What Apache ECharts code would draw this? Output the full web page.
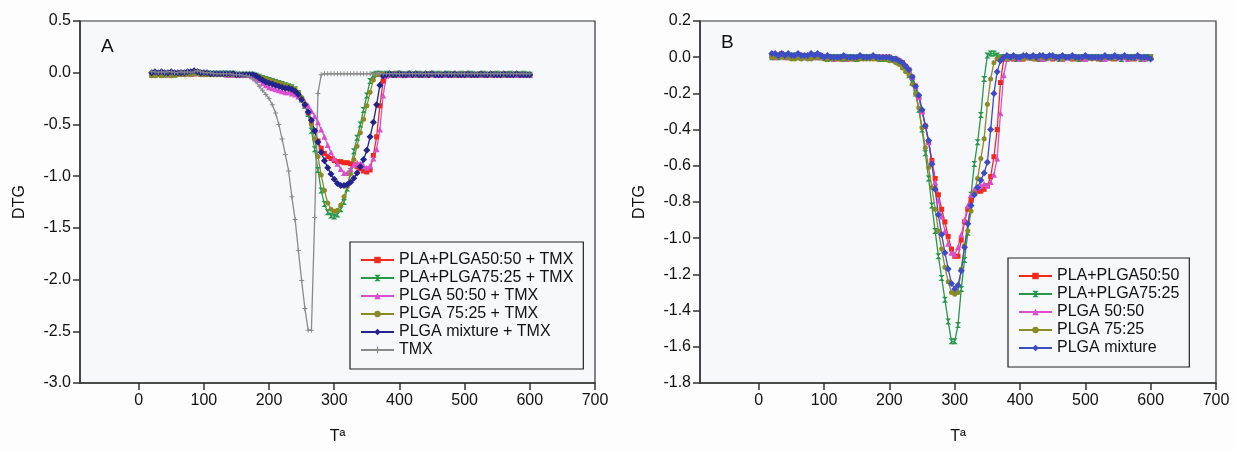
<!DOCTYPE html>
<html>
<head>
<meta charset="utf-8">
<script src="https://cdn.jsdelivr.net/npm/echarts@6/dist/echarts.min.js"></script>
<style>
  html, body { margin: 0; padding: 0; background: #fdfdfd; }
  #chart { width: 1235px; height: 450px; }
</style>
</head>
<body>
<div id="chart"></div>
<script>
// temperature grid (°C), shared by every curve
const temps = [
  20,25,30,35,40,45,50,55,60,65,
  70,75,80,85,90,95,100,105,110,115,
  120,125,130,135,140,145,150,155,160,165,
  170,175,180,185,190,195,200,205,210,215,
  220,225,230,235,240,245,250,255,260,265,
  270,275,280,285,290,295,300,305,310,315,
  320,325,330,335,340,345,350,355,360,365,
  370,375,380,385,390,395,400,405,410,415,
  420,425,430,435,440,445,450,455,460,465,
  470,475,480,485,490,495,500,505,510,515,
  520,525,530,535,540,545,550,555,560,565,
  570,575,580,585,590,595,600
]

const xTicks = [0, 100, 200, 300, 400, 500, 600, 700]

// ---- panel A (with TMX) ----
const namesA = ['PLA+PLGA50:50 + TMX', 'PLA+PLGA75:25 + TMX', 'PLGA 50:50 + TMX', 'PLGA 75:25 + TMX', 'PLGA mixture + TMX', 'TMX']

const redA = [
  -0.01,-0.01,-0.01,-0.02,-0.01,-0.01,-0.01,-0.01,-0.01,0.00,
  0.00,-0.01,0.00,0.00,0.01,0.00,-0.01,-0.01,-0.01,-0.01,
  -0.01,-0.01,-0.01,-0.01,-0.01,-0.02,-0.02,-0.02,-0.02,-0.02,
  -0.02,-0.02,-0.03,-0.05,-0.06,-0.08,-0.09,-0.10,-0.11,-0.12,
  -0.13,-0.14,-0.15,-0.17,-0.19,-0.22,-0.26,-0.32,-0.39,-0.47,
  -0.56,-0.66,-0.73,-0.78,-0.81,-0.83,-0.85,-0.86,-0.86,-0.87,
  -0.87,-0.88,-0.89,-0.91,-0.93,-0.95,-0.96,-0.94,-0.80,-0.62,
  -0.32,-0.08,-0.02,-0.02,-0.01,-0.02,-0.02,-0.01,-0.02,-0.02,
  -0.02,-0.01,-0.02,-0.02,-0.02,-0.01,-0.01,-0.02,-0.02,-0.02,
  -0.02,-0.02,-0.01,-0.02,-0.02,-0.02,-0.01,-0.02,-0.02,-0.02,
  -0.02,-0.01,-0.02,-0.02,-0.02,-0.01,-0.02,-0.02,-0.02,-0.01,
  -0.02,-0.02,-0.01,-0.02,-0.02,-0.02,-0.02
]
const greenA = [
  -0.02,-0.02,-0.01,-0.02,-0.02,-0.01,-0.01,-0.02,-0.01,-0.01,
  -0.01,0.00,-0.01,0.00,0.00,-0.01,-0.01,-0.01,-0.01,-0.01,
  -0.01,-0.01,-0.01,-0.01,-0.01,-0.01,-0.02,-0.02,-0.02,-0.02,
  -0.02,-0.02,-0.03,-0.04,-0.05,-0.06,-0.07,-0.08,-0.09,-0.10,
  -0.11,-0.12,-0.13,-0.14,-0.16,-0.20,-0.26,-0.32,-0.40,-0.56,
  -0.74,-0.94,-1.14,-1.27,-1.35,-1.38,-1.39,-1.37,-1.32,-1.25,
  -1.12,-0.95,-0.76,-0.63,-0.50,-0.36,-0.22,-0.08,-0.02,-0.01,
  -0.01,-0.02,-0.01,-0.02,-0.02,-0.01,-0.01,-0.02,-0.02,-0.01,
  -0.02,-0.02,-0.01,-0.02,-0.02,-0.02,-0.01,-0.02,-0.01,-0.02,
  -0.02,-0.01,-0.02,-0.02,-0.02,-0.01,-0.02,-0.02,-0.01,-0.02,
  -0.02,-0.02,-0.01,-0.02,-0.02,-0.02,-0.01,-0.02,-0.02,-0.02,
  -0.01,-0.02,-0.02,-0.02,-0.01,-0.02,-0.02
]
const magentaA = [
  -0.01,-0.02,-0.01,-0.01,-0.01,-0.02,-0.01,-0.01,-0.01,-0.01,
  -0.01,-0.01,0.00,-0.01,0.00,-0.01,-0.01,-0.01,-0.01,-0.01,
  -0.01,-0.01,-0.01,-0.02,-0.02,-0.02,-0.02,-0.02,-0.02,-0.02,
  -0.02,-0.03,-0.05,-0.07,-0.10,-0.12,-0.14,-0.15,-0.16,-0.17,
  -0.18,-0.19,-0.19,-0.20,-0.21,-0.23,-0.25,-0.28,-0.32,-0.37,
  -0.42,-0.48,-0.55,-0.62,-0.70,-0.77,-0.83,-0.88,-0.93,-0.97,
  -0.97,-0.93,-0.89,-0.87,-0.88,-0.90,-0.92,-0.90,-0.83,-0.74,
  -0.55,-0.22,-0.03,-0.02,-0.02,-0.01,-0.02,-0.02,-0.01,-0.02,
  -0.02,-0.02,-0.01,-0.02,-0.02,-0.02,-0.01,-0.02,-0.02,-0.01,
  -0.02,-0.02,-0.02,-0.01,-0.02,-0.02,-0.02,-0.01,-0.02,-0.02,
  -0.01,-0.02,-0.02,-0.02,-0.01,-0.02,-0.02,-0.01,-0.02,-0.02,
  -0.02,-0.01,-0.02,-0.02,-0.02,-0.01,-0.02
]
const oliveA = [
  -0.03,-0.03,-0.02,-0.03,-0.02,-0.02,-0.03,-0.02,-0.02,-0.02,
  -0.02,-0.01,-0.02,-0.01,-0.01,-0.02,-0.02,-0.02,-0.02,-0.02,
  -0.02,-0.02,-0.02,-0.02,-0.02,-0.02,-0.02,-0.02,-0.02,-0.02,
  -0.02,-0.02,-0.03,-0.04,-0.05,-0.06,-0.07,-0.08,-0.09,-0.10,
  -0.11,-0.12,-0.13,-0.14,-0.16,-0.19,-0.24,-0.30,-0.38,-0.50,
  -0.64,-0.81,-0.99,-1.14,-1.26,-1.32,-1.34,-1.33,-1.28,-1.20,
  -1.10,-0.98,-0.84,-0.71,-0.58,-0.45,-0.32,-0.19,-0.07,-0.02,
  -0.02,-0.01,-0.02,-0.02,-0.02,-0.01,-0.02,-0.02,-0.02,-0.01,
  -0.02,-0.02,-0.02,-0.01,-0.02,-0.02,-0.01,-0.02,-0.02,-0.02,
  -0.01,-0.02,-0.02,-0.02,-0.01,-0.02,-0.02,-0.02,-0.02,-0.01,
  -0.02,-0.02,-0.01,-0.02,-0.02,-0.02,-0.02,-0.01,-0.02,-0.02,
  -0.02,-0.02,-0.01,-0.02,-0.02,-0.02,-0.02
]
const blueA = [
  0.00,0.01,0.00,0.01,0.00,0.00,0.01,0.00,0.00,0.00,
  0.00,0.01,0.01,0.02,0.01,0.00,0.00,0.00,-0.01,-0.01,
  -0.01,-0.01,-0.01,-0.01,-0.01,-0.01,-0.02,-0.02,-0.02,-0.02,
  -0.02,-0.02,-0.03,-0.05,-0.07,-0.09,-0.10,-0.11,-0.12,-0.13,
  -0.14,-0.15,-0.15,-0.16,-0.18,-0.21,-0.26,-0.31,-0.38,-0.46,
  -0.56,-0.67,-0.77,-0.85,-0.92,-0.98,-1.03,-1.07,-1.09,-1.09,
  -1.08,-1.06,-1.02,-0.97,-0.91,-0.84,-0.75,-0.62,-0.48,-0.31,
  -0.12,-0.03,-0.02,-0.01,-0.02,-0.02,-0.01,-0.02,-0.02,-0.01,
  -0.02,-0.01,-0.02,-0.02,-0.01,-0.02,-0.01,-0.02,-0.02,-0.02,
  -0.01,-0.02,-0.02,-0.01,-0.02,-0.02,-0.02,-0.01,-0.02,-0.02,
  -0.02,-0.01,-0.02,-0.02,-0.01,-0.02,-0.02,-0.02,-0.01,-0.02,
  -0.02,-0.02,-0.01,-0.02,-0.02,-0.02,-0.02
]
const tmxA = [
  0.01,0.01,0.00,0.01,0.00,0.01,0.01,0.00,0.00,0.01,
  0.00,0.01,0.00,0.01,0.02,0.01,0.00,0.00,0.00,-0.01,
  -0.01,-0.01,-0.01,-0.01,-0.01,-0.02,-0.02,-0.02,-0.03,-0.03,
  -0.04,-0.06,-0.09,-0.13,-0.17,-0.21,-0.25,-0.31,-0.39,-0.50,
  -0.64,-0.79,-0.95,-1.20,-1.42,-1.72,-2.01,-2.28,-2.49,-2.49,
  -1.40,-0.20,-0.02,-0.01,-0.01,-0.01,-0.01,-0.01,-0.01,-0.01,
  -0.01,-0.01,-0.01,-0.01,-0.01,-0.01,-0.01,-0.01,-0.01,-0.01,
  -0.01,-0.01,-0.01,-0.01,-0.01,-0.01,-0.01,-0.01,-0.01,-0.01,
  -0.01,-0.01,-0.01,-0.01,-0.01,-0.01,-0.01,-0.01,-0.01,-0.01,
  -0.01,-0.01,-0.01,-0.01,-0.01,-0.01,-0.01,-0.01,-0.01,-0.01,
  -0.01,-0.01,-0.01,-0.01,-0.01,-0.01,-0.01,-0.01,-0.01,-0.01,
  -0.01,-0.01,-0.01,-0.01,-0.01,-0.01,-0.01
]

// ---- panel B (polymers only) ----
const namesB = ['PLA+PLGA50:50', 'PLA+PLGA75:25', 'PLGA 50:50', 'PLGA 75:25', 'PLGA mixture']

const redB = [
  0.01,0.01,0.01,0.02,0.01,0.01,0.01,0.00,0.01,0.01,
  0.01,0.00,0.00,0.01,0.01,0.01,0.00,0.00,0.00,0.00,
  0.00,-0.01,0.00,0.00,0.00,-0.01,0.00,0.00,0.00,0.00,
  0.00,0.00,0.00,0.00,0.00,0.00,0.00,-0.01,-0.01,-0.02,
  -0.03,-0.05,-0.07,-0.11,-0.16,-0.22,-0.30,-0.38,-0.47,-0.57,
  -0.67,-0.76,-0.84,-0.91,-0.99,-1.06,-1.10,-1.10,-1.01,-0.91,
  -0.84,-0.79,-0.75,-0.74,-0.74,-0.73,-0.71,-0.66,-0.55,-0.40,
  -0.14,-0.01,0.00,0.00,-0.01,0.00,0.00,-0.01,0.00,0.00,
  0.00,-0.01,-0.01,0.00,0.00,0.00,-0.01,0.00,0.00,0.00,
  0.00,0.00,-0.01,0.00,0.00,-0.01,0.00,0.00,0.00,0.00,
  -0.01,0.00,0.00,0.00,0.00,-0.01,0.00,0.00,0.00,0.00,
  0.00,-0.01,0.00,0.00,0.00,0.00,0.00
]
const greenB = [
  0.00,0.01,0.00,0.01,0.01,0.00,0.00,0.01,0.00,0.00,
  0.00,0.00,0.00,0.01,0.00,0.00,0.00,-0.01,0.00,0.00,
  0.00,0.00,-0.01,0.00,0.00,0.00,-0.01,0.00,0.00,0.00,
  0.00,0.00,0.00,-0.01,-0.01,-0.01,-0.01,-0.01,-0.02,-0.03,
  -0.05,-0.07,-0.10,-0.14,-0.20,-0.29,-0.40,-0.53,-0.67,-0.82,
  -0.96,-1.10,-1.22,-1.34,-1.46,-1.57,-1.57,-1.48,-1.28,-1.12,
  -0.97,-0.76,-0.59,-0.47,-0.32,-0.12,0.01,0.02,0.02,0.01,
  0.00,0.00,0.00,0.00,0.00,-0.01,0.00,0.00,0.00,0.00,
  0.00,0.00,-0.01,0.00,0.00,0.00,0.00,0.00,-0.01,0.00,
  0.00,0.00,0.00,0.00,-0.01,0.00,0.00,0.00,0.00,0.00,
  0.00,-0.01,0.00,0.00,0.00,0.00,0.00,-0.01,0.00,0.00,
  0.00,0.00,0.00,-0.01,0.00,0.00,0.00
]
const magentaB = [
  0.01,0.00,0.01,0.01,0.00,0.01,0.00,0.00,0.01,0.00,
  0.00,0.01,0.00,0.00,0.01,0.00,0.00,0.00,0.00,-0.01,
  0.00,0.00,0.00,-0.01,0.00,0.00,0.00,0.00,0.00,0.00,
  0.00,0.00,0.00,0.00,0.00,0.00,0.00,-0.01,-0.01,-0.02,
  -0.03,-0.05,-0.07,-0.11,-0.16,-0.22,-0.30,-0.38,-0.47,-0.58,
  -0.69,-0.79,-0.88,-0.96,-1.03,-1.08,-1.09,-1.05,-0.98,-0.90,
  -0.82,-0.76,-0.73,-0.72,-0.71,-0.70,-0.71,-0.69,-0.65,-0.56,
  -0.31,-0.10,-0.01,0.00,0.00,0.00,-0.01,0.00,0.00,0.00,
  0.00,0.00,0.00,-0.01,0.00,0.00,0.00,0.00,0.00,-0.01,
  0.00,0.00,0.00,0.00,0.00,0.00,-0.01,0.00,0.00,0.00,
  0.00,0.00,-0.01,0.00,0.00,0.00,0.00,0.00,0.00,-0.01,
  0.00,0.00,0.00,0.00,-0.01,0.00,0.00
]
const oliveB = [
  0.00,0.00,0.01,0.00,0.00,0.00,-0.01,-0.01,0.00,-0.01,
  0.00,-0.01,-0.01,0.00,0.00,0.00,-0.01,-0.01,-0.01,-0.01,
  -0.01,-0.01,-0.01,-0.01,-0.01,-0.01,-0.01,-0.01,-0.01,-0.01,
  -0.01,-0.01,-0.01,-0.01,-0.01,-0.01,-0.02,-0.02,-0.03,-0.04,
  -0.06,-0.08,-0.10,-0.15,-0.20,-0.28,-0.39,-0.50,-0.61,-0.72,
  -0.84,-0.96,-1.06,-1.16,-1.24,-1.30,-1.31,-1.30,-1.17,-1.04,
  -0.96,-0.85,-0.75,-0.67,-0.56,-0.45,-0.26,-0.12,-0.03,-0.01,
  0.00,0.00,-0.01,0.00,0.00,0.00,0.00,-0.01,0.00,0.00,
  -0.01,0.00,0.00,0.00,-0.01,0.00,0.00,0.00,0.00,-0.01,
  0.00,0.00,0.00,-0.01,0.00,0.00,0.00,0.00,-0.01,0.00,
  0.00,0.00,0.00,0.00,-0.01,0.00,0.00,0.00,0.00,0.00,
  -0.01,0.00,0.00,0.00,0.00,-0.01,0.00
]
const blueB = [
  0.02,0.02,0.01,0.02,0.01,0.02,0.01,0.01,0.02,0.01,
  0.01,0.01,0.02,0.01,0.02,0.01,0.00,0.01,0.00,0.00,
  0.00,0.00,0.01,0.00,0.00,0.00,0.00,0.01,0.00,0.00,
  0.00,0.01,0.00,0.00,0.00,0.00,0.00,-0.01,-0.01,-0.02,
  -0.03,-0.05,-0.07,-0.11,-0.16,-0.21,-0.29,-0.38,-0.46,-0.59,
  -0.73,-0.87,-0.98,-1.08,-1.17,-1.25,-1.28,-1.26,-1.18,-1.05,
  -0.92,-0.82,-0.76,-0.72,-0.68,-0.64,-0.58,-0.40,-0.20,-0.08,
  -0.02,0.00,0.01,0.00,0.01,0.00,0.00,0.01,0.01,0.00,
  0.01,0.00,0.01,0.01,0.00,0.01,0.01,0.00,0.00,0.01,
  0.00,0.00,0.01,0.00,0.00,0.00,0.01,0.00,0.00,0.00,
  0.00,0.00,0.01,0.00,0.00,0.01,0.00,0.00,0.01,0.00,
  0.00,0.00,0.01,0.00,0.00,0.00,-0.01
]

// marker shapes
const hourglass = 'path://M0,0L10,0L0,10L10,10Z'
const plusMark = 'path://M4,0H6V4H10V6H6V10H4V6H0V4H4Z'

const fontFam = '"Liberation Sans", Arial, sans-serif'

function mkSeries(name, vals, color, symbol, size, idx) {
  return {
    name: name,
    type: 'line',
    xAxisIndex: idx,
    yAxisIndex: idx,
    data: temps.map((t, i) => [t, vals[i]]),
    symbol: symbol,
    symbolSize: size,
    lineStyle: { color: color, width: 1.3 },
    itemStyle: { color: color },
    animation: false
  }
}

function xAxisCfg(idx) {
  return {
    type: 'value',
    gridIndex: idx,
    min: -90,
    max: 700,
    name: 'Tª',
    nameLocation: 'middle',
    nameGap: 46,
    nameTextStyle: { fontSize: 16, color: '#111', fontFamily: fontFam },
    axisLine: { onZero: false, lineStyle: { color: '#333', width: 1.5 } },
    axisTick: { customValues: xTicks, length: 7, lineStyle: { color: '#333', width: 1.5 } },
    axisLabel: { customValues: xTicks, margin: 10, fontSize: 16, color: '#111', fontFamily: fontFam },
    splitLine: { show: false }
  }
}

function yAxisCfg(idx, min, max, step) {
  return {
    type: 'value',
    gridIndex: idx,
    min: min,
    max: max,
    interval: step,
    name: 'DTG',
    nameLocation: 'middle',
    nameGap: 52,
    nameTextStyle: { fontSize: 16, color: '#111', fontFamily: fontFam },
    axisLine: { show: true, onZero: false, lineStyle: { color: '#333', width: 1.5 } },
    axisTick: { show: true, length: 7, lineStyle: { color: '#333', width: 1.5 } },
    axisLabel: {
      margin: 9, fontSize: 16, color: '#111', fontFamily: fontFam,
      formatter: v => (Math.abs(v) < 1e-9 ? 0 : v).toFixed(1)
    },
    splitLine: { show: false }
  }
}

function legendCfg(names, left, top, pad) {
  return {
    data: names,
    orient: 'vertical',
    left: left,
    top: top,
    padding: pad,
    itemGap: 0,
    itemWidth: 33,
    itemHeight: 8,
    borderColor: '#222',
    borderWidth: 1.2,
    textStyle: { fontSize: 16, lineHeight: 18, color: '#111', fontFamily: fontFam }
  }
}

const chart = echarts.init(document.getElementById('chart'), null, { renderer: 'canvas' })

const option = {
  backgroundColor: '#fdfdfd',
  animation: false,
  grid: [
    { left: 80, top: 21, width: 515, height: 372, show: true, borderColor: '#333', borderWidth: 1.2, backgroundColor: '#f6f8fb' },
    { left: 700, top: 21, width: 516, height: 372, show: true, borderColor: '#333', borderWidth: 1.2, backgroundColor: '#f6f8fb' }
  ],
  xAxis: [xAxisCfg(0), xAxisCfg(1)],
  yAxis: [yAxisCfg(0, -3, 0.5, 0.5), yAxisCfg(1, -1.8, 0.2, 0.2)],
  legend: [
    legendCfg(namesA, 350, 242, [9, 10, 10, 10]),
    legendCfg(namesB, 1008, 258, [9, 10, 10, 10])
  ],
  graphic: [
    { type: 'text', left: 101, top: 37, style: { text: 'A', fontSize: 19, fill: '#111', fontFamily: fontFam } },
    { type: 'text', left: 721, top: 33, style: { text: 'B', fontSize: 19, fill: '#111', fontFamily: fontFam } }
  ],
  series: [
    mkSeries(namesA[0], redA, '#f02a1e', 'rect', 5, 0),
    mkSeries(namesA[1], greenA, '#27984a', hourglass, 6, 0),
    mkSeries(namesA[2], magentaA, '#d94fd0', 'triangle', 6, 0),
    mkSeries(namesA[3], oliveA, '#8b8b25', 'circle', 5, 0),
    mkSeries(namesA[4], blueA, '#22238c', 'diamond', 7, 0),
    mkSeries(namesA[5], tmxA, '#8a8a8a', plusMark, 5, 0),
    mkSeries(namesB[0], redB, '#f02a1e', 'rect', 5, 1),
    mkSeries(namesB[1], greenB, '#27984a', hourglass, 6, 1),
    mkSeries(namesB[2], magentaB, '#d94fd0', 'triangle', 6, 1),
    mkSeries(namesB[3], oliveB, '#8b8b25', 'circle', 5, 1),
    mkSeries(namesB[4], blueB, '#3b4cc4', 'diamond', 7, 1)
  ]
}

chart.setOption(option)
</script>
</body>
</html>
